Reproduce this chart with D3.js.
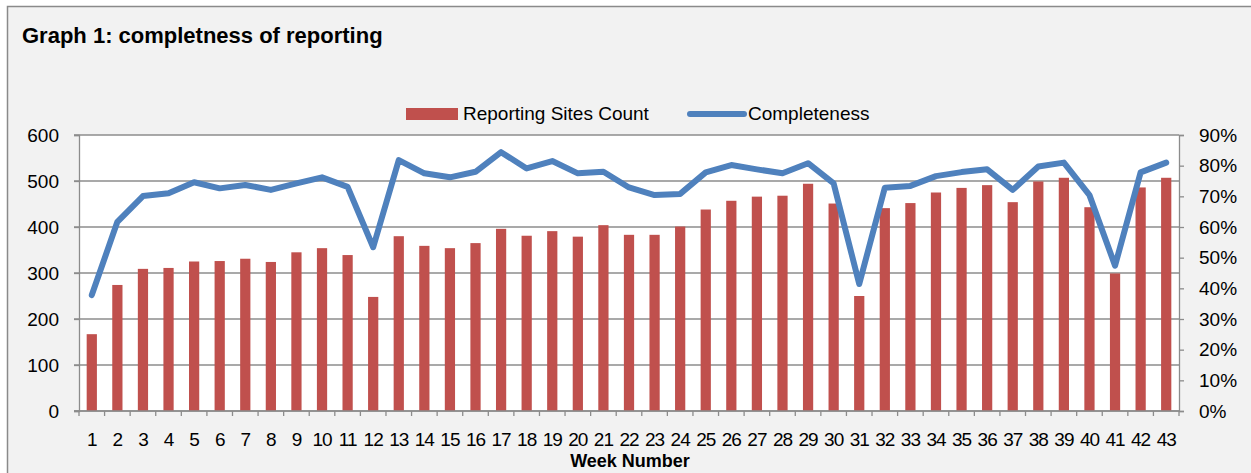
<!DOCTYPE html>
<html>
<head>
<meta charset="utf-8">
<script src="https://cdn.jsdelivr.net/npm/d3@7"></script>
<style>
  body { margin: 0; background: #fff; }
  text { font-family: "Liberation Sans", Arial, sans-serif; fill: #000; }
</style>
</head>
<body>
<div class="chartContainer"></div>
<script>
var W = 1251, H = 473
var barRed = '#c0504d'
var lineBlue = '#4f81bd'
var gridGrey = '#8c8c8c'

// week numbers 1..43
var weeks = ['1','2','3','4','5','6','7','8','9','10','11','12','13','14','15','16','17','18','19','20','21','22','23','24','25','26','27','28','29','30','31','32','33','34','35','36','37','38','39','40','41','42','43']

// reporting sites count per week
var sitesCount = [167,274,309,311,325,326,331,324,345,354,339,248,380,359,354,365,396,381,391,379,404,383,383,401,438,457,466,468,494,451,250,441,452,475,485,491,454,499,507,443,299,486,507]

// completeness per week (fraction)
var completeness = [0.378,0.617,0.701,0.710,0.746,0.726,0.737,0.721,0.742,0.762,0.731,0.534,0.818,0.775,0.762,0.780,0.844,0.791,0.815,0.775,0.780,0.729,0.704,0.708,0.778,0.802,0.788,0.775,0.808,0.742,0.414,0.728,0.734,0.766,0.779,0.788,0.721,0.797,0.810,0.704,0.474,0.778,0.810]

var leftTicks = [0,100,200,300,400,500,600]
var rightTicks = [0,0.1,0.2,0.3,0.4,0.5,0.6,0.7,0.8,0.9]

var margin = {top: 135, right: 72, bottom: 62, left: 79}

var x = d3.scaleBand()
    .domain(weeks)
    .range([margin.left, W - margin.right])
    .paddingInner(0.6)
    .paddingOuter(0.3)

var xTicks = d3.scaleBand() // band without padding for the tick marks
    .domain(weeks)
    .range([margin.left, W - margin.right])

var yL = d3.scaleLinear()
    .domain([0, 600])
    .range([H - margin.bottom, margin.top])

var yR = d3.scaleLinear()
    .domain([0, 0.9])
    .range([H - margin.bottom, margin.top])

var svg = d3.select('.chartContainer').append('svg')
    .attr('width', W)
    .attr('height', H)
    .attr('viewBox', [0, 0, W, H])

// chart area frame
svg.append('rect')
    .attr('x', 7.5).attr('y', 6.5)
    .attr('width', W + 20).attr('height', H + 20)
    .attr('fill', '#f2f2f2')
    .attr('stroke', '#8a8a8a')
    .attr('stroke-width', 1.5)

// plot area
svg.append('rect')
    .attr('x', margin.left).attr('y', margin.top)
    .attr('width', W - margin.right - margin.left)
    .attr('height', H - margin.bottom - margin.top)
    .attr('fill', '#fff')

svg.append('text')
    .attr('x', 22).attr('y', 43)
    .style('font-size', '22px')
    .style('font-weight', 'bold')
    .text('Graph 1: completness of reporting')

// gridlines
svg.append('g')
    .selectAll('line')
    .data(leftTicks)
    .enter().append('line')
    .attr('x1', margin.left - 5).attr('x2', W - margin.right)
    .attr('y1', d => yL(d)).attr('y2', d => yL(d))
    .attr('stroke', gridGrey)
    .attr('stroke-width', 1.3)

// left axis
svg.append('g')
    .attr('transform', 'translate(' + margin.left + ',0)')
    .call(d3.axisLeft(yL).tickValues(leftTicks).tickSize(5).tickPadding(15))
    .call(g => g.selectAll('.domain, line').attr('stroke', gridGrey).attr('stroke-width', 1.3))
    .call(g => g.selectAll('text').style('font-size', '19px'))

// right axis
svg.append('g')
    .attr('transform', 'translate(' + (W - margin.right) + ',0)')
    .call(d3.axisRight(yR).tickValues(rightTicks).tickSize(5).tickPadding(15).tickFormat(d3.format('.0%')))
    .call(g => g.selectAll('.domain, line').attr('stroke', gridGrey).attr('stroke-width', 1.3))
    .call(g => g.selectAll('text').style('font-size', '19px'))

// bars
svg.append('g')
    .selectAll('rect')
    .data(sitesCount)
    .enter().append('rect')
    .attr('x', (d, i) => x(weeks[i]))
    .attr('y', d => yL(d))
    .attr('width', x.bandwidth())
    .attr('height', d => yL(0) - yL(d))
    .attr('fill', barRed)

// x axis
var xg = svg.append('g')
    .attr('transform', 'translate(0,' + (H - margin.bottom) + ')')

xg.append('line')
    .attr('x1', margin.left - 5).attr('x2', W - margin.right)
    .attr('stroke', gridGrey).attr('stroke-width', 1.3)

xg.selectAll('.xtick')
    .data(weeks.concat(['end']))
    .enter().append('line')
    .attr('x1', (d, i) => margin.left + i * xTicks.step())
    .attr('x2', (d, i) => margin.left + i * xTicks.step())
    .attr('y1', 0).attr('y2', 5)
    .attr('stroke', gridGrey).attr('stroke-width', 1.3)

xg.selectAll('.xlab')
    .data(weeks)
    .enter().append('text')
    .attr('x', d => xTicks(d) + xTicks.bandwidth() / 2)
    .attr('y', 35)
    .attr('text-anchor', 'middle')
    .style('font-size', '19px')
    .style('letter-spacing', '-1px')
    .text(d => d)

svg.append('text')
    .attr('x', 630).attr('y', 467)
    .attr('text-anchor', 'middle')
    .style('font-size', '18px')
    .style('font-weight', 'bold')
    .text('Week Number')

// completeness line
var line = d3.line()
    .x((d, i) => x(weeks[i]) + x.bandwidth() / 2)
    .y(d => yR(d))

svg.append('path')
    .datum(completeness)
    .attr('d', line)
    .attr('fill', 'none')
    .attr('stroke', lineBlue)
    .attr('stroke-width', 6)
    .attr('stroke-linejoin', 'round')
    .attr('stroke-linecap', 'round')

// legend
var legend = svg.append('g')
legend.append('rect')
    .attr('x', 406).attr('y', 108).attr('width', 52).attr('height', 12)
    .attr('fill', barRed)
legend.append('text')
    .attr('x', 463).attr('y', 120)
    .style('font-size', '19px')
    .text('Reporting Sites Count')
legend.append('line')
    .attr('x1', 690).attr('x2', 744).attr('y1', 114).attr('y2', 114)
    .attr('stroke', lineBlue).attr('stroke-width', 6).attr('stroke-linecap', 'round')
legend.append('text')
    .attr('x', 748).attr('y', 120)
    .style('font-size', '19px')
    .text('Completeness')
</script>
</body>
</html>
